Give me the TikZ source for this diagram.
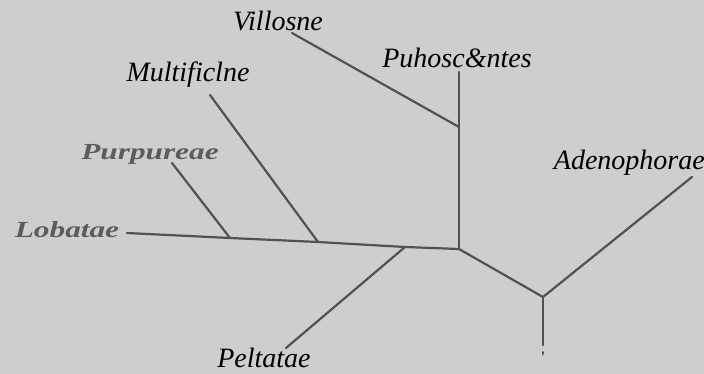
\documentclass[tikz,border=0pt]{standalone}
\usepackage{fontspec}
\setmainfont{Liberation Serif}
\definecolor{paper}{RGB}{206,206,204}
\definecolor{ink}{RGB}{82,82,82}
\definecolor{oldink}{RGB}{92,92,92}
\newcommand{\widetext}[1]{\scalebox{1.36}[1]{#1}}
\begin{document}
\begin{tikzpicture}[x=1pt,y=-1pt,
  branch/.style={draw=ink,line width=2.2pt,line cap=round,line join=round},
  lab/.style={inner sep=0pt,text=black,font=\fontsize{28}{30}\selectfont\itshape},
  oldlab/.style={inner sep=0pt,text=oldink,font=\fontsize{23}{25}\selectfont\bfseries\itshape}]
\fill[paper] (0,0) rectangle (704,374);
\useasboundingbox (0,0) rectangle (704,374);
% labels
\node[lab] (villosne) at (278,21) {Villosne};
\node[lab] (puhosc) at (457,58) {Puhosc\&ntes};
\node[lab] (multi) at (188,75) {Multificlne};
\node[oldlab] (purp) at (150,154) {\widetext{Purpureae}};
\node[oldlab] (lob) at (67,230) {\widetext{Lobatae}};
\node[lab,anchor=east] (aden) at (705,163) {Adenophorae};
\node[lab] (pelt) at (264,358) {Peltatae};
\node[inner sep=0pt,text=black,font=\fontsize{16}{16}\selectfont] (tick) at (543,357) {\textquotesingle};
% coordinates
\coordinate (jL) at (127,233);
\coordinate (jP) at (230,238);
\coordinate (jM) at (318,242);
\coordinate (jPe) at (405,247);
\coordinate (jR) at (459,249);
\coordinate (pTop) at (172,163);
\coordinate (mTop) at (210,95);
\coordinate (vTop) at (292,33);
\coordinate (vEnd) at (459,127);
\coordinate (phTop) at (459,72);
\coordinate (peEnd) at (286,348);
\coordinate (jA) at (543,297);
\coordinate (aTop) at (692,177);
\coordinate (root) at (543,345);
% branches
\draw[branch] (jL) -- (jP) -- (jM) -- (jPe) -- (jR);
\draw[branch] (pTop) -- (jP);
\draw[branch] (mTop) -- (jM);
\draw[branch] (vTop) -- (vEnd);
\draw[branch] (phTop) -- (jR);
\draw[branch] (jPe) -- (peEnd);
\draw[branch] (jR) -- (jA);
\draw[branch] (jA) -- (aTop);
\draw[branch] (jA) -- (root);
\end{tikzpicture}
\end{document}
